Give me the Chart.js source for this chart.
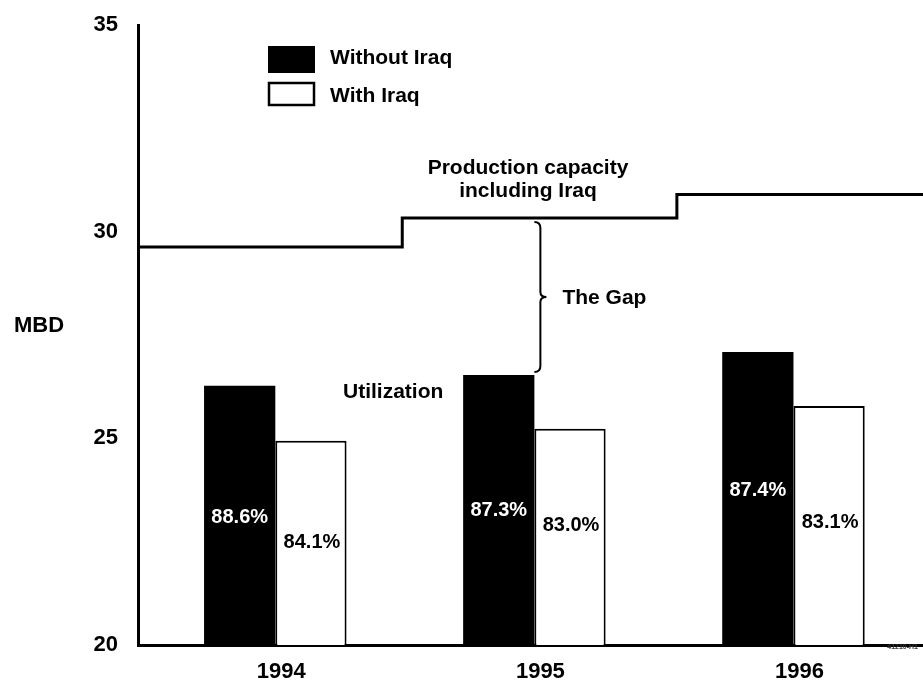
<!DOCTYPE html>
<html>
<head>
<meta charset="utf-8">
<script src="https://cdn.jsdelivr.net/npm/chart.js@4"></script>
<style>
  html, body { margin: 0; padding: 0; background: #fff; }
  canvas { display: block; }
</style>
</head>
<body>
<canvas id="chartGap" width="923" height="689"></canvas>
<script>
const years = ['1994', '1995', '1996'];
const withoutIraq = [26.27, 26.53, 27.09];
const withIraq = [24.94, 25.23, 25.78];
const utilWithout = ['88.6%', '87.3%', '87.4%'];
const utilWith = ['84.1%', '83.0%', '83.1%'];
// capacity steps on the year span (step points where the level changes)
const capacityX = [-0.03, 0.99, 2.05, 3];
const capacity = [29.63, 30.33, 30.9, 30.9];
const yTicks = [20, 25, 30, 35];

const FONT = "'Liberation Sans', Arial, sans-serif";
// each year sits in the middle of its one-unit slot on the x scale
const yearPos = years.map((_, i) => i + 0.5);

const annotations = {
    id: 'annotations',
    beforeDraw(chart) {
        const ctx = chart.ctx;
        ctx.save();
        ctx.fillStyle = '#fff';
        ctx.fillRect(0, 0, chart.width, chart.height);
        ctx.restore();
    },
    afterDraw(chart) {
        const ctx = chart.ctx;
        const y = chart.scales.y;
        const blk = chart.getDatasetMeta(0).data;
        const wht = chart.getDatasetMeta(1).data;
        ctx.save();
        ctx.textBaseline = 'middle';

        // legend
        ctx.fillStyle = '#000';
        ctx.fillRect(268, 46, 47, 27);
        ctx.lineWidth = 2.5;
        ctx.strokeStyle = '#000';
        ctx.strokeRect(269, 83, 45, 22);
        ctx.font = 'bold 21px ' + FONT;
        ctx.textAlign = 'left';
        ctx.fillText('Without Iraq', 330, 58);
        ctx.fillText('With Iraq', 330, 96);

        // axis title
        ctx.font = 'bold 22px ' + FONT;
        ctx.fillText('MBD', 14, 326);

        // captions
        ctx.font = 'bold 21px ' + FONT;
        ctx.textAlign = 'center';
        ctx.fillText('Production capacity', 528, 168);
        ctx.fillText('including Iraq', 528, 191);
        ctx.textAlign = 'left';
        ctx.fillText('Utilization', 343, 392);

        // the gap brace between capacity and 1995 bar
        const bx = blk[1].x + blk[1].width / 2 + 6;
        const top = y.getPixelForValue(capacity[1]) + 4;
        const bot = y.getPixelForValue(withoutIraq[1]) - 3;
        const mid = (top + bot) / 2;
        ctx.lineWidth = 2;
        ctx.beginPath();
        ctx.moveTo(bx - 6, top);
        ctx.quadraticCurveTo(bx, top, bx, top + 6);
        ctx.lineTo(bx, mid - 5);
        ctx.quadraticCurveTo(bx, mid, bx + 6, mid);
        ctx.quadraticCurveTo(bx, mid, bx, mid + 5);
        ctx.lineTo(bx, bot - 6);
        ctx.quadraticCurveTo(bx, bot, bx - 6, bot);
        ctx.stroke();
        ctx.fillText('The Gap', bx + 22, mid + 1);

        // utilization percentages
        const blkY = [517, 510, 490];
        const whtY = [542, 525, 522];
        ctx.font = 'bold 20px ' + FONT;
        ctx.textAlign = 'center';
        blk.forEach((b, i) => {
            ctx.fillStyle = '#fff';
            ctx.fillText(utilWithout[i], b.x, blkY[i]);
        });
        wht.forEach((b, i) => {
            ctx.fillStyle = '#000';
            ctx.fillText(utilWith[i], b.x + 1, whtY[i]);
        });

        // tiny document code
        ctx.fillStyle = '#333';
        ctx.font = 'bold 7px ' + FONT;
        ctx.textAlign = 'right';
        ctx.fillText('41210-H1', 918, 647);
        ctx.restore();
    }
};

new Chart(document.getElementById('chartGap').getContext('2d'), {
    type: 'bar',
    data: {
        datasets: [
            { label: 'Without Iraq', data: yearPos.map((x, i) => ({ x, y: withoutIraq[i] })),
              backgroundColor: '#000', borderWidth: 0, categoryPercentage: 0.55, barPercentage: 1.0 },
            { label: 'With Iraq', data: yearPos.map((x, i) => ({ x, y: withIraq[i] })),
              backgroundColor: '#fff', borderColor: '#000', borderWidth: 2, borderSkipped: 'bottom',
              categoryPercentage: 0.55, barPercentage: 1.0 },
            { type: 'line', label: 'Production capacity including Iraq',
              data: capacityX.map((x, i) => ({ x, y: capacity[i] })),
              stepped: 'before', borderColor: '#000', borderWidth: 3, pointRadius: 0, fill: false }
        ]
    },
    options: {
        responsive: false,
        animation: false,
        devicePixelRatio: 1,
        layout: { padding: { top: 25, right: 0, bottom: 0, left: 0 } },
        plugins: { legend: { display: false }, tooltip: { enabled: false } },
        scales: {
            x: {
                type: 'linear',
                min: -0.03, max: 3,
                offset: false,
                afterBuildTicks(scale) { scale.ticks = yearPos.map(v => ({ value: v })); },
                grid: { display: false, drawTicks: false, offset: false },
                border: { display: true, color: '#000', width: 3 },
                ticks: {
                    color: '#000', font: { family: FONT, size: 22, weight: 'bold' }, padding: 14, labelOffset: 6,
                    callback: v => years[Math.round(v - 0.5)]
                },
                afterFit(scale) { scale.height = 44; }
            },
            y: {
                min: 20, max: 35,
                afterBuildTicks(scale) { scale.ticks = yTicks.map(v => ({ value: v })); },
                grid: { display: false, drawTicks: false },
                border: { display: true, color: '#000', width: 3 },
                ticks: { color: '#000', font: { family: FONT, size: 22, weight: 'bold' }, padding: 20 },
                afterFit(scale) { scale.width = 138; scale.paddingTop = 0; scale.paddingBottom = 0; }
            }
        }
    },
    plugins: [annotations]
});
</script>
</body>
</html>
